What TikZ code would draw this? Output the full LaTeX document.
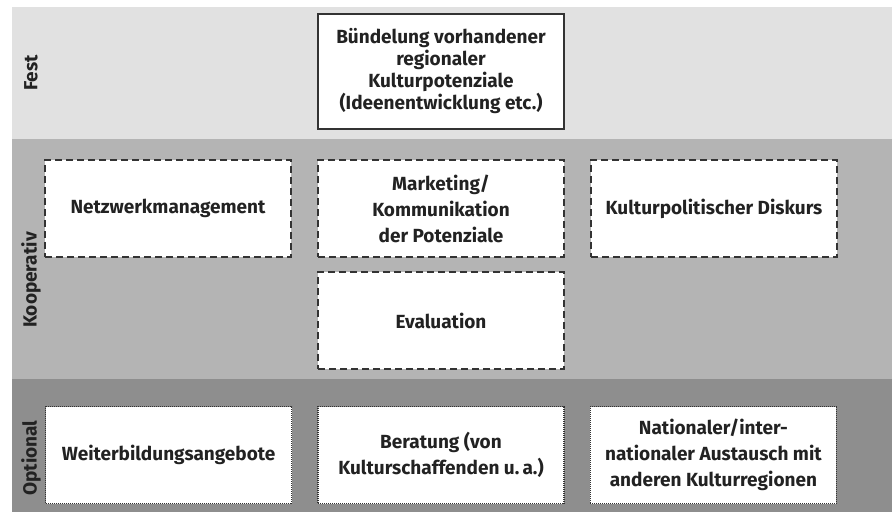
\documentclass[tikz,border=0pt]{standalone}
\usepackage{fontspec}
\setmainfont{Fira Sans}
\usepackage{tikz}
\usetikzlibrary{positioning}
\definecolor{festbg}{HTML}{E1E1E1}
\definecolor{koopbg}{HTML}{B4B4B4}
\definecolor{optbg}{HTML}{8E8E8E}
\definecolor{edge}{HTML}{333333}
\definecolor{ink}{HTML}{222222}
\tikzset{
    box/.style={rectangle, fill=white, draw=edge, minimum width=123pt, minimum height=48.5pt,
                align=center, text=ink, font=\fontsize{9.5}{13}\selectfont\bfseries, inner sep=2pt},
    fixbox/.style={box, line width=1pt, minimum height=57.5pt,
                   font=\fontsize{9.5}{11}\selectfont\bfseries},
    coopbox/.style={box, line width=1pt, dash pattern=on 3.5pt off 2pt},
    optbox/.style={box, line width=0.7pt, dash pattern=on 0.5pt off 0.5pt},
    bandlabel/.style={rotate=90, text=ink, font=\fontsize{9.5}{11}\selectfont\bfseries},
}

\begin{document}
\begin{tikzpicture}[x=0.5pt, y=-0.5pt]

  \useasboundingbox (0,0) rectangle (892,512);

  % bands
  \fill[festbg] (12,7) rectangle (892,139);
  \fill[koopbg] (12,139) rectangle (892,379);
  \fill[optbg] (12,379) rectangle (892,512);

  \node[bandlabel] (fest) at (31,73) {Fest};
  \node[bandlabel] (koop) at (31,280) {Kooperativ};
  \node[bandlabel] (opt) at (31,458) {Optional};

  % fest
  \node[fixbox] (bund) at (441,71.5)
       {B\"undelung vorhandener\\regionaler\\Kulturpotenziale\\(Ideenentwicklung etc.)};

  % kooperativ
  \node[coopbox, below=14.5pt of bund] (mark) {Marketing/\\Kommunikation\\der Potenziale};
  \node[coopbox, left=12.5pt of mark] (netz) {Netzwerkmanagement};
  \node[coopbox, right=12.5pt of mark] (kult) {Kulturpolitischer Diskurs};
  \node[coopbox, below=6.5pt of mark] (eval) {Evaluation};

  % optional
  \node[optbox, below=18pt of eval] (bera) {Beratung (von\\Kulturschaffenden u.\,a.)};
  \node[optbox, left=12.5pt of bera] (weit) {Weiterbildungsangebote};
  \node[optbox, right=12.5pt of bera] (nat)
       {Nationaler/inter-\\nationaler Austausch mit\\anderen Kulturregionen};

\end{tikzpicture}
\end{document}
